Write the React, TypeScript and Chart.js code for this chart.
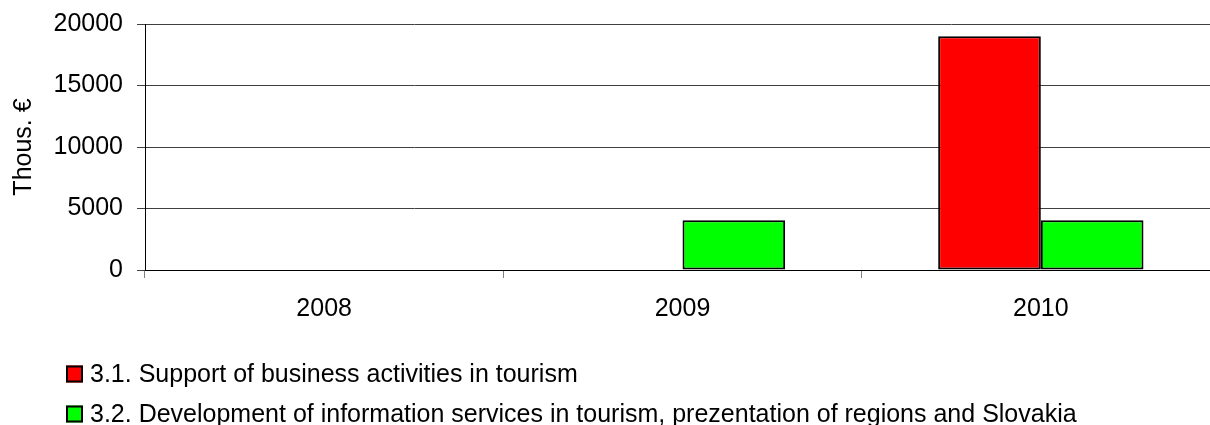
import React, { useEffect, useRef } from "react";
import { Chart, registerables } from "chart.js";

Chart.register(...registerables);

const categories = ["2008", "2009", "2010"];
const series1Label = "3.1. Support of business activities in tourism";
const series1Values = [0, 0, 19000];
const series2Label =
  "3.2. Development of information services in tourism, prezentation of regions and Slovakia";
const series2Values = [0, 4050, 4050];
const yMin = 0;
const yMax = 20000;
const yStep = 5000;
const yTitle = "Thous. €";

const FONT = "'Liberation Sans', Arial, Helvetica, sans-serif";
const FS = 25;

const legendPlugin = {
  id: "customLegend",
  afterDraw(chart: any) {
    const ctx = chart.ctx;
    const area = chart.chartArea;
    ctx.save();
    chart.data.datasets.forEach((ds: any, i: number) => {
      const cy = area.bottom + 104 + i * 40;
      const bx = 66;
      const size = 17;
      ctx.fillStyle = ds.backgroundColor;
      ctx.fillRect(bx, cy - size / 2, size, size);
      ctx.lineWidth = 2;
      ctx.strokeStyle = "#000";
      ctx.strokeRect(bx + 1, cy - size / 2 + 1, size - 2, size - 2);
      ctx.fillStyle = "#000";
      ctx.font = `${FS}px ${FONT}`;
      ctx.textBaseline = "middle";
      ctx.textAlign = "left";
      ctx.fillText(ds.label, 90, cy + 1);
    });
    ctx.restore();
  },
};

export default function App() {
  const ref = useRef<HTMLCanvasElement | null>(null);

  useEffect(() => {
    document.body.style.margin = "0";
    const canvas = ref.current;
    if (!canvas) return;
    const chart = new Chart(canvas, {
      type: "bar",
      data: {
        labels: categories,
        datasets: [
          {
            label: series1Label,
            data: series1Values,
            backgroundColor: "#FF0000",
            borderColor: "#000000",
            borderWidth: 2,
            borderSkipped: false,
          },
          {
            label: series2Label,
            data: series2Values,
            backgroundColor: "#00FF00",
            borderColor: "#000000",
            borderWidth: 2,
            borderSkipped: false,
          },
        ],
      },
      options: {
        animation: false,
        responsive: false,
        maintainAspectRatio: false,
        devicePixelRatio: 1,
        layout: { padding: { top: 24, bottom: 100, left: 0, right: 0 } },
        plugins: {
          legend: { display: false },
          tooltip: { enabled: false },
          title: { display: false },
        },
        datasets: {
          bar: { categoryPercentage: 0.573, barPercentage: 1 },
        },
        scales: {
          x: {
            offset: true,
            grid: {
              offset: true,
              drawOnChartArea: false,
              drawTicks: true,
              tickLength: 8,
              tickColor: "#808080",
              lineWidth: 1,
            },
            border: { display: true, color: "#000000", width: 1 },
            ticks: {
              color: "#000000",
              font: { family: FONT, size: FS },
              padding: 16,
              maxRotation: 0,
            },
            afterFit: (scale: any) => {
              scale.height = 55;
              scale.paddingLeft = 0;
              scale.paddingRight = 0;
            },
          },
          y: {
            min: yMin,
            max: yMax,
            grid: {
              color: "#404040",
              lineWidth: 1,
              tickLength: 8,
              tickColor: "#404040",
            },
            border: { display: true, color: "#000000", width: 1 },
            ticks: {
              stepSize: yStep,
              color: "#000000",
              font: { family: FONT, size: FS },
              padding: 14,
              callback: (v: any) => String(v),
            },
            title: {
              display: true,
              text: yTitle,
              color: "#000000",
              font: { family: FONT, size: FS },
              padding: { top: 9, bottom: 0 },
            },
            afterFit: (scale: any) => {
              scale.width = 145;
              scale.paddingTop = 0;
              scale.paddingBottom = 0;
            },
          },
        },
      },
      plugins: [legendPlugin],
    });
    return () => chart.destroy();
  }, []);

  return (
    <div style={{ width: 1210, height: 425, overflow: "hidden", position: "relative" }}>
      <canvas ref={ref} width={1220} height={425} style={{ display: "block" }} />
    </div>
  );
}
